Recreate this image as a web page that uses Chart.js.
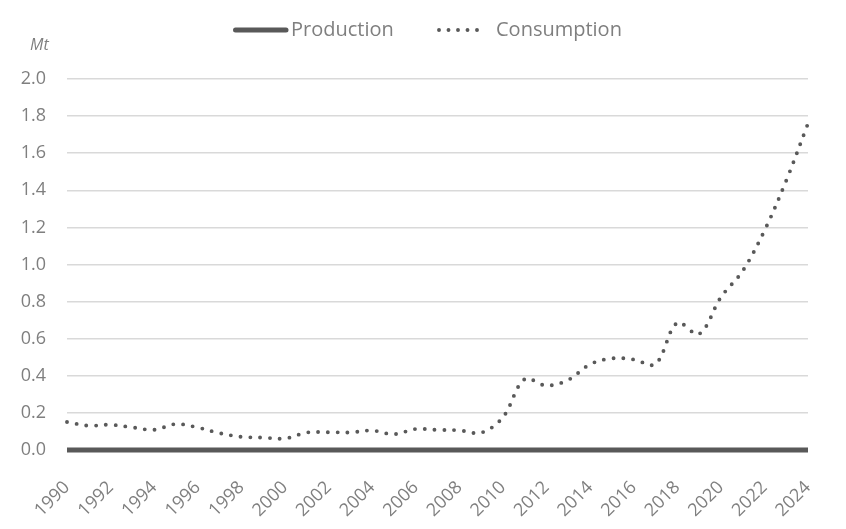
<!DOCTYPE html>
<html>
<head>
<meta charset="utf-8">
<script src="https://cdn.jsdelivr.net/npm/chart.js@4"></script>
<style>
  html, body { margin: 0; padding: 0; background: #ffffff; }
  #wrap { width: 846px; height: 529px; }
</style>
</head>
<body>
<div id="wrap"><canvas id="c" width="846" height="529"></canvas></div>
<script>
const years = ['1990','1991','1992','1993','1994','1995','1996','1997','1998','1999',
  '2000','2001','2002','2003','2004','2005','2006','2007','2008','2009',
  '2010','2011','2012','2013','2014','2015','2016','2017','2018','2019',
  '2020','2021','2022','2023','2024'];
const xTickLabels = ['1990','1992','1994','1996','1998','2000','2002','2004','2006','2008',
  '2010','2012','2014','2016','2018','2020','2022','2024'];
const production = [0,0,0,0,0,0,0,0,0,0, 0,0,0,0,0,0,0,0,0,0, 0,0,0,0,0,0,0,0,0,0, 0,0,0,0,0];
const consumption = [0.151,0.131,0.136,0.122,0.109,0.140,0.121,0.091,0.071,0.067,
  0.062,0.094,0.096,0.095,0.105,0.085,0.113,0.108,0.106,0.093,
  0.176,0.382,0.347,0.378,0.462,0.494,0.488,0.463,0.686,0.625,
  0.823,0.965,1.182,1.452,1.760];
const yTicks = [0,0.2,0.4,0.6,0.8,1.0,1.2,1.4,1.6,1.8,2.0];
const seriesNames = ['Production','Consumption'];
const unitLabel = 'Mt';

const LINE = '#595959';
const TEXT = '#7f7f7f';
const FONT = "'Open Sans', 'Noto Sans', sans-serif";

const overlay = {
  id: 'overlay',
  afterDraw(chart) {
    const ctx = chart.ctx;
    ctx.save();
    ctx.fillStyle = TEXT;
    ctx.font = "italic 16px " + FONT;
    ctx.textAlign = 'left';
    ctx.textBaseline = 'middle';
    ctx.fillText(unitLabel, 30, 45);
    const ly = 30;
    ctx.font = "20px " + FONT;
    const ds = chart.data.datasets;
    ctx.strokeStyle = ds[0].borderColor;
    ctx.lineWidth = ds[0].borderWidth;
    ctx.lineCap = 'round';
    ctx.setLineDash([]);
    ctx.beginPath(); ctx.moveTo(235.5, ly); ctx.lineTo(286, ly); ctx.stroke();
    ctx.fillStyle = TEXT;
    ctx.fillText(ds[0].label, 291, ly);
    ctx.strokeStyle = ds[1].borderColor;
    ctx.lineWidth = ds[1].borderWidth;
    ctx.lineCap = 'round';
    ctx.setLineDash([0, 9.5]);
    ctx.beginPath(); ctx.moveTo(439, ly); ctx.lineTo(479, ly); ctx.stroke();
    ctx.setLineDash([]);
    ctx.fillText(ds[1].label, 496, ly);
    ctx.restore();
  }
};

new Chart(document.getElementById('c'), {
  type: 'line',
  data: {
    labels: years,
    datasets: [
      {
        label: seriesNames[0],
        data: production,
        borderColor: LINE,
        backgroundColor: LINE,
        borderWidth: 5,
        pointRadius: 0,
        tension: 0,
        clip: false,
        order: 1
      },
      {
        label: seriesNames[1],
        data: consumption,
        borderColor: LINE,
        backgroundColor: LINE,
        borderWidth: 3.9,
        borderDash: [0, 9.8],
        borderCapStyle: 'round',
        pointRadius: 0,
        tension: 0.35,
        clip: false,
        order: 0
      }
    ]
  },
  options: {
    responsive: false,
    animation: false,
    devicePixelRatio: 1,
    layout: { padding: { top: 79, right: 38, bottom: 0, left: 0 } },
    plugins: {
      legend: { display: false },
      tooltip: { enabled: false },
      title: { display: false }
    },
    scales: {
      x: {
        grid: { display: false, drawTicks: false },
        border: { display: false },
        ticks: {
          autoSkip: false,
          minRotation: 45,
          maxRotation: 45,
          padding: 27,
          labelOffset: 0,
          color: TEXT,
          font: { family: FONT, size: 18 },
          callback: function(value, index) {
            const lab = this.getLabelForValue(value);
            return xTickLabels.includes(lab) ? lab : '';
          }
        },
        afterFit(scale) {
          scale.height = 79;
          scale.paddingLeft = 0;
          scale.paddingRight = 0;
        }
      },
      y: {
        min: 0,
        max: 2,
        afterBuildTicks(scale) { scale.ticks = yTicks.map(v => ({ value: v })); },
        grid: { color: '#d9d9d9', lineWidth: 1.5, drawTicks: false },
        border: { display: false },
        ticks: {
          padding: 21,
          color: TEXT,
          font: { family: FONT, size: 18 },
          callback: (v) => Number(v).toFixed(1)
        },
        afterFit(scale) { scale.width = 67; }
      }
    }
  },
  plugins: [overlay]
});
</script>
</body>
</html>
